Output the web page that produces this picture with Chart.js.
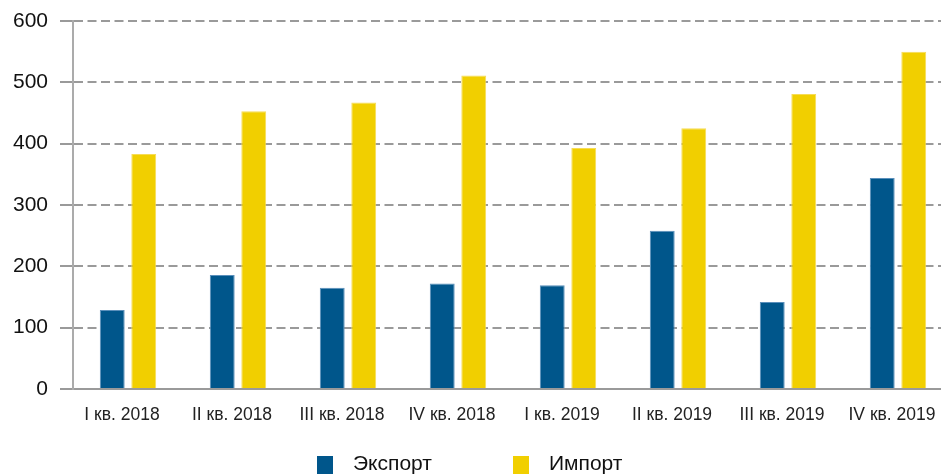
<!DOCTYPE html>
<html>
<head>
<meta charset="utf-8">
<script src="https://cdn.jsdelivr.net/npm/chart.js@4"></script>
<style>
html,body{margin:0;padding:0;background:#fff;overflow:hidden;}
#wrap{width:941px;height:474px;overflow:hidden;position:relative;}
canvas{display:block;}
</style>
</head>
<body>
<div id="wrap"><canvas id="c" width="953" height="474"></canvas></div>
<script>
const categories = ["I кв. 2018","II кв. 2018","III кв. 2018","IV кв. 2018","I кв. 2019","II кв. 2019","III кв. 2019","IV кв. 2019"];
const exportValues = [129, 186, 165, 172, 169, 258, 142, 344];
const importValues = [383, 453, 467, 511, 393, 425, 481, 550];
const yTicks = [0, 100, 200, 300, 400, 500, 600];
const seriesNames = ["Экспорт", "Импорт"];

const legendPlugin = {
  id: 'customLegend',
  afterDraw(chart) {
    const ctx = chart.ctx;
    const pos = [317, 513];
    ctx.save();
    chart.data.datasets.forEach((ds, i) => {
      const x = pos[i];
      ctx.fillStyle = ds.backgroundColor;
      ctx.fillRect(x, 456, 16, 18);
      ctx.fillStyle = '#111';
      ctx.font = '21px "Liberation Sans", Arial, sans-serif';
      ctx.textBaseline = 'middle';
      ctx.textAlign = 'left';
      ctx.fillText(ds.label, x + 36, 464);
    });
    ctx.restore();
  }
};

new Chart(document.getElementById('c'), {
  type: 'bar',
  data: {
    labels: categories,
    datasets: [
      {label: seriesNames[0], data: exportValues, backgroundColor: '#00568b', borderColor: '#5a8fbb', borderWidth: 1, categoryPercentage: 0.573, barPercentage: 0.79},
      {label: seriesNames[1], data: importValues, backgroundColor: '#f1cf00', borderColor: '#f6dc55', borderWidth: 1, categoryPercentage: 0.573, barPercentage: 0.79}
    ]
  },
  options: {
    responsive: false,
    animation: false,
    events: [],
    layout: {padding: {top: 21, right: 0, bottom: 0, left: 0}},
    plugins: {legend: {display: false}, tooltip: {enabled: false}},
    scales: {
      x: {
        afterFit(scale) { scale.height = 85; scale.paddingLeft = 0; scale.paddingRight = 0; },
        grid: {display: false, drawTicks: false},
        border: {display: true, color: '#9a9a9a', width: 2},
        ticks: {color: '#222', font: {family: '"Liberation Sans", Arial, sans-serif', size: 17.5}, padding: 16, labelOffset: -6, maxRotation: 0, autoSkip: false}
      },
      y: {
        min: 0, max: 600,
        afterFit(scale) { scale.width = 73; scale.paddingTop = 0; scale.paddingBottom = 0; },
        afterBuildTicks(scale) { scale.ticks = yTicks.map(v => ({value: v})); },
        grid: {color: '#9a9a9a', lineWidth: 2, tickLength: 13, tickColor: '#9a9a9a', tickWidth: 2, drawTicks: true},
        border: {display: true, color: '#ababab', width: 2, dash: [9, 4.5]},
        ticks: {color: '#111', font: {family: '"Liberation Sans", Arial, sans-serif', size: 21}, padding: 12, stepSize: 100}
      }
    }
  },
  plugins: [legendPlugin]
});
</script>
</body>
</html>
